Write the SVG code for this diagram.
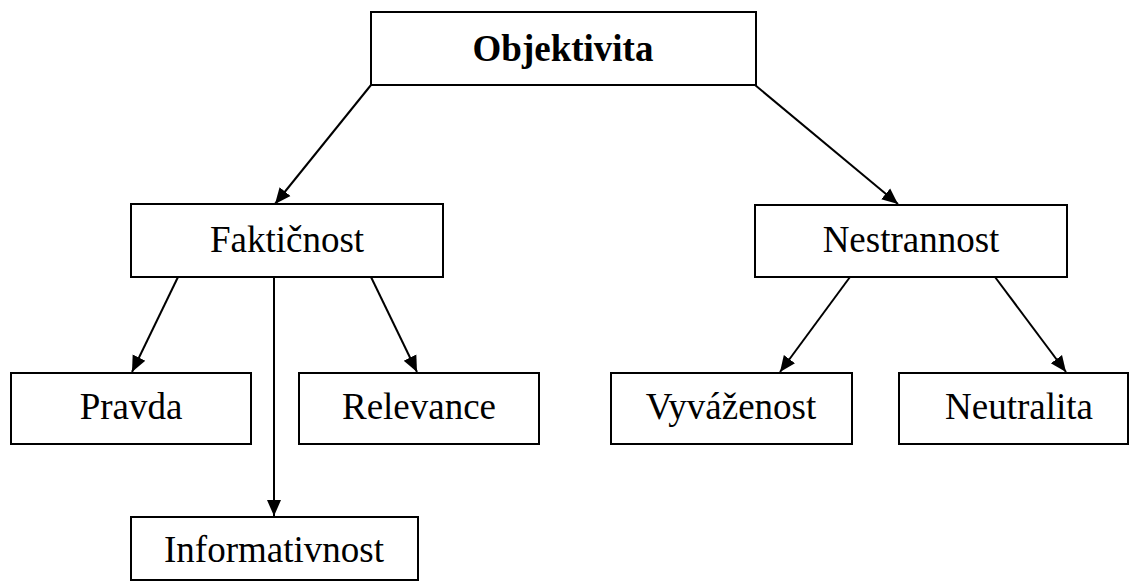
<svg xmlns="http://www.w3.org/2000/svg" width="1130" height="583" viewBox="0 0 1130 583">
<style>
.box{fill:#fff;stroke:#000;stroke-width:2}
.t{font-family:"Liberation Serif","Times New Roman",serif;font-size:37px;fill:#000;text-anchor:middle}
.b{font-weight:bold}
.c{stroke:#000;stroke-width:2;fill:none}
</style>
<defs>
<marker id="ah" markerUnits="userSpaceOnUse" markerWidth="18" markerHeight="16" refX="16" refY="8" orient="auto">
<path d="M0,1 L16,8 L0,15 Z" fill="#000"/>
</marker>
</defs>
<rect width="1130" height="583" fill="#fff"/>
<g id="connectors">
<line class="c" x1="371" y1="85" x2="275" y2="204" marker-end="url(#ah)"/>
<line class="c" x1="755" y1="85" x2="898" y2="204" marker-end="url(#ah)"/>
<line class="c" x1="178" y1="277" x2="132" y2="372" marker-end="url(#ah)"/>
<line class="c" x1="274" y1="277" x2="274" y2="516" marker-end="url(#ah)"/>
<line class="c" x1="371" y1="277" x2="417" y2="372" marker-end="url(#ah)"/>
<line class="c" x1="850" y1="277" x2="780" y2="372" marker-end="url(#ah)"/>
<line class="c" x1="995" y1="277" x2="1066" y2="372" marker-end="url(#ah)"/>
</g>
<g id="objektivita"><rect class="box" x="371" y="12" width="385" height="73"/><text class="t b" x="563" y="61">Objektivita</text></g>
<g id="fakticnost"><rect class="box" x="131" y="204" width="312" height="73"/><text class="t" x="287" y="252">Faktičnost</text></g>
<g id="nestrannost"><rect class="box" x="755" y="205" width="312" height="72"/><text class="t" x="911" y="252">Nestrannost</text></g>
<g id="pravda"><rect class="box" x="11" y="373" width="240" height="71"/><text class="t" x="131" y="419">Pravda</text></g>
<g id="relevance"><rect class="box" x="299" y="373" width="240" height="71"/><text class="t" x="419" y="419">Relevance</text></g>
<g id="vyvazenost"><rect class="box" x="611" y="373" width="241" height="71"/><text class="t" x="731" y="419">Vyváženost</text></g>
<g id="neutralita"><rect class="box" x="899" y="373" width="229" height="71"/><text class="t" x="1019" y="419">Neutralita</text></g>
<g id="informativnost"><rect class="box" x="131" y="517" width="287" height="63"/><text class="t" x="274" y="562">Informativnost</text></g>
</svg>
